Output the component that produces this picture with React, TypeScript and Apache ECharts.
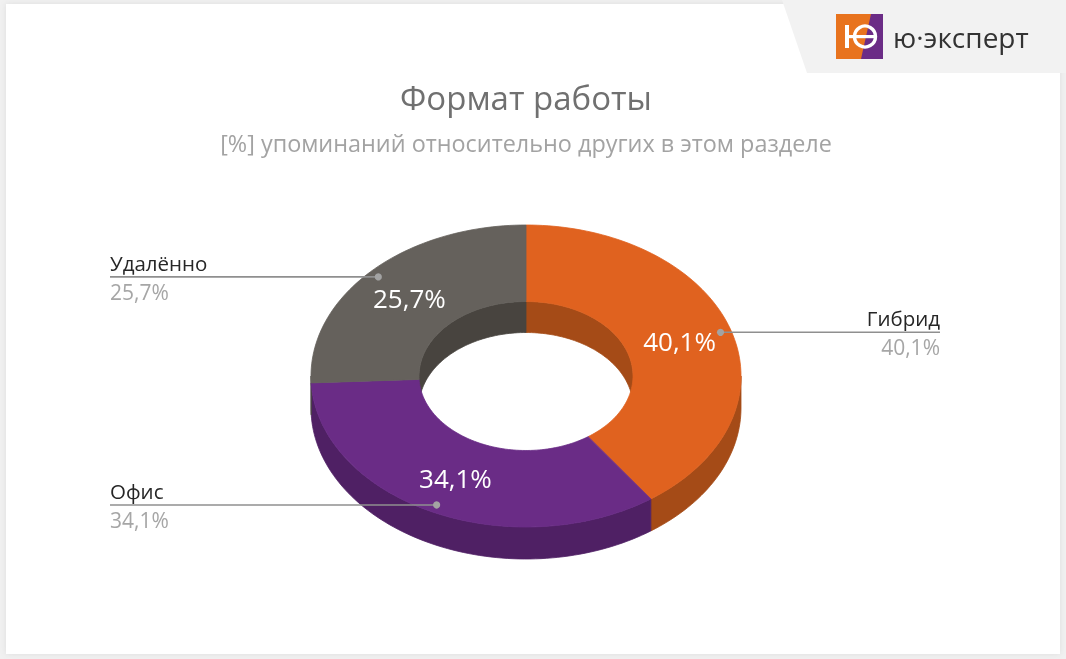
import React, { useEffect, useRef } from "react";
import * as echarts from "echarts";

// ---- data ----
const categories = ["Гибрид", "Офис", "Удалённо"];
const values = [40.1, 34.1, 25.7];
const topColors = ["#E0621F", "#6A2C86", "#65615C"];
const sideColors = ["#A54B17", "#4F2064", "#48443F"];
const titleText = "Формат работы";
const subtitleText = "[%] упоминаний относительно других в этом разделе";
const brandText = "ю·эксперт";

// ---- geometry (layout constants) ----
const CX = 526;
const CY = 376;
const RX = 215;
const RY = 151;
const IRX = 107;
const IRY = 74.5;
const DEPTH = 32;
const IDEPTH = 31;
const FONT = "'Open Sans', 'Noto Sans', sans-serif";

const fmt = (v: number) => v.toFixed(1).replace(".", ",") + "%";

const total = values.reduce((a, b) => a + b, 0);
const sliceData = (() => {
  let acc = 0;
  return values.map((v, i) => {
    const s = acc / total;
    acc += v;
    const e = acc / total;
    return [s, e, i];
  });
})();

function pt(rx: number, ry: number, deg: number, dy = 0): number[] {
  const r = (deg * Math.PI) / 180;
  return [CX + rx * Math.cos(r), CY - ry * Math.sin(r) + dy];
}
function arc(rx: number, ry: number, a: number, b: number, dy = 0): number[][] {
  const n = Math.max(2, Math.ceil(Math.abs(b - a) / 1.5));
  const out: number[][] = [];
  for (let i = 0; i <= n; i++) out.push(pt(rx, ry, a + ((b - a) * i) / n, dy));
  return out;
}
function angles(api: any) {
  const s = api.value(0) as number;
  const e = api.value(1) as number;
  const a1 = 90 - 360 * s; // start (larger)
  const a2 = 90 - 360 * e; // end (smaller)
  return [a1, a2];
}
function intersect(lo: number, hi: number, a: number, b: number) {
  const l = Math.max(lo, a);
  const h = Math.min(hi, b);
  return l < h ? [l, h] : null;
}

export default function App() {
  const ref = useRef<HTMLDivElement>(null);
  useEffect(() => {
    if (!ref.current) return;
    const chart = echarts.init(ref.current, undefined, { renderer: "svg" });

    const wallsRender = (params: any, api: any) => {
      const i = api.value(2) as number;
      const [a1, a2] = angles(api);
      const children: any[] = [];
      for (let k = -1; k <= 1; k++) {
        // outer front wall: lower half
        const o = intersect(-180 + 360 * k, 0 + 360 * k, a2, a1);
        if (o) {
          const pts = arc(RX, RY, o[0], o[1]).concat(arc(RX, RY, o[1], o[0], DEPTH));
          children.push({
            type: "polygon",
            shape: { points: pts },
            style: { fill: sideColors[i], stroke: sideColors[i], lineWidth: 0.8 },
          });
        }
        // inner back wall: upper half
        const n = intersect(0 + 360 * k, 180 + 360 * k, a2, a1);
        if (n) {
          const pts = arc(IRX, IRY, n[0], n[1]).concat(arc(IRX, IRY, n[1], n[0], IDEPTH));
          children.push({
            type: "polygon",
            shape: { points: pts },
            style: { fill: sideColors[i], stroke: sideColors[i], lineWidth: 0.8 },
          });
        }
      }
      return { type: "group", children };
    };

    const topRender = (params: any, api: any) => {
      const i = api.value(2) as number;
      const [a1, a2] = angles(api);
      const pts = arc(RX, RY, a1, a2).concat(arc(IRX, IRY, a2, a1));
      return {
        type: "polygon",
        shape: { points: pts },
        style: { fill: topColors[i], stroke: topColors[i], lineWidth: 0.8 },
      };
    };

    const labelRender = (params: any, api: any) => {
      const i = api.value(2) as number;
      const [a1, a2] = angles(api);
      const mid = (a1 + a2) / 2;
      const dot = pt(RX * 0.95, RY * 0.95, mid);
      const inner = pt(RX * 0.75, RY * 0.75, mid);
      const right = Math.cos((mid * Math.PI) / 180) > 0;
      const endX = right ? 940 : 110;
      const align = right ? "right" : "left";
      return {
        type: "group",
        children: [
          {
            type: "text",
            style: {
              text: fmt(values[i]),
              x: inner[0],
              y: inner[1],
              align: "center",
              verticalAlign: "middle",
              fill: "#ffffff",
              font: `26px ${FONT}`,
            },
          },
          {
            type: "line",
            shape: { x1: dot[0], y1: dot[1], x2: endX, y2: dot[1] },
            style: { stroke: "#8f8f8f", lineWidth: 1.6 },
          },
          {
            type: "circle",
            shape: { cx: dot[0], cy: dot[1], r: 3.6 },
            style: { fill: "#a3a3a3" },
          },
          {
            type: "text",
            style: {
              text: categories[i],
              x: endX,
              y: dot[1] - 14,
              align,
              verticalAlign: "middle",
              fill: "#262626",
              font: `20.5px ${FONT}`,
            },
          },
          {
            type: "text",
            style: {
              text: fmt(values[i]),
              x: endX,
              y: dot[1] + 15,
              align,
              verticalAlign: "middle",
              fill: "#a6a6a6",
              font: `21px ${FONT}`,
            },
          },
        ],
      };
    };

    chart.setOption({
      animation: false,
      graphic: [
        { type: "rect", z: 0, shape: { x: 0, y: 0, width: 1066, height: 659 }, style: { fill: "#f1f1f1" } },
        {
          type: "rect",
          z: 0,
          shape: { x: 6, y: 4, width: 1054, height: 650 },
          style: { fill: "#ffffff", shadowBlur: 6, shadowColor: "rgba(0,0,0,0.08)" },
        },
        {
          type: "polygon",
          z: 1,
          shape: { points: [[782, 0], [1066, 0], [1066, 73], [807, 73]] },
          style: { fill: "#f2f2f2" },
        },
        { type: "rect", z: 1, shape: { x: 836, y: 14, width: 47, height: 45 }, style: { fill: "#E8731E" } },
        {
          type: "polygon",
          z: 1,
          shape: { points: [[871, 14], [883, 14], [883, 59], [861, 59]] },
          style: { fill: "#6B2C86" },
        },
        { type: "rect", z: 1, shape: { x: 845, y: 25, width: 4, height: 23 }, style: { fill: "#ffffff" } },
        {
          type: "circle",
          z: 1,
          shape: { cx: 865, cy: 36.5, r: 10.5 },
          style: { fill: "none", stroke: "#ffffff", lineWidth: 3.4 },
        },
        { type: "rect", z: 1, shape: { x: 848, y: 35, width: 27, height: 3.2 }, style: { fill: "#ffffff" } },
        {
          type: "text",
          z: 1,
          style: {
            text: brandText,
            x: 893,
            y: 37,
            verticalAlign: "middle",
            fill: "#333333",
            font: `28px ${FONT}`,
          },
        },
        {
          type: "text",
          z: 1,
          style: {
            text: titleText,
            x: CX,
            y: 97,
            align: "center",
            verticalAlign: "middle",
            fill: "#707070",
            font: `33px ${FONT}`,
          },
        },
        {
          type: "text",
          z: 1,
          style: {
            text: subtitleText,
            x: CX,
            y: 143,
            align: "center",
            verticalAlign: "middle",
            fill: "#a3a3a3",
            font: `23.4px ${FONT}`,
          },
        },
      ],
      series: [
        { type: "custom", coordinateSystem: "none", z: 2, silent: true, data: sliceData, renderItem: wallsRender },
        { type: "custom", coordinateSystem: "none", z: 3, silent: true, data: sliceData, renderItem: topRender },
        { type: "custom", coordinateSystem: "none", z: 4, silent: true, data: sliceData, renderItem: labelRender },
      ],
    });
    return () => chart.dispose();
  }, []);
  return (
    <div
      ref={ref}
      style={{ position: "fixed", left: 0, top: 0, width: 1066, height: 659 }}
    />
  );
}
